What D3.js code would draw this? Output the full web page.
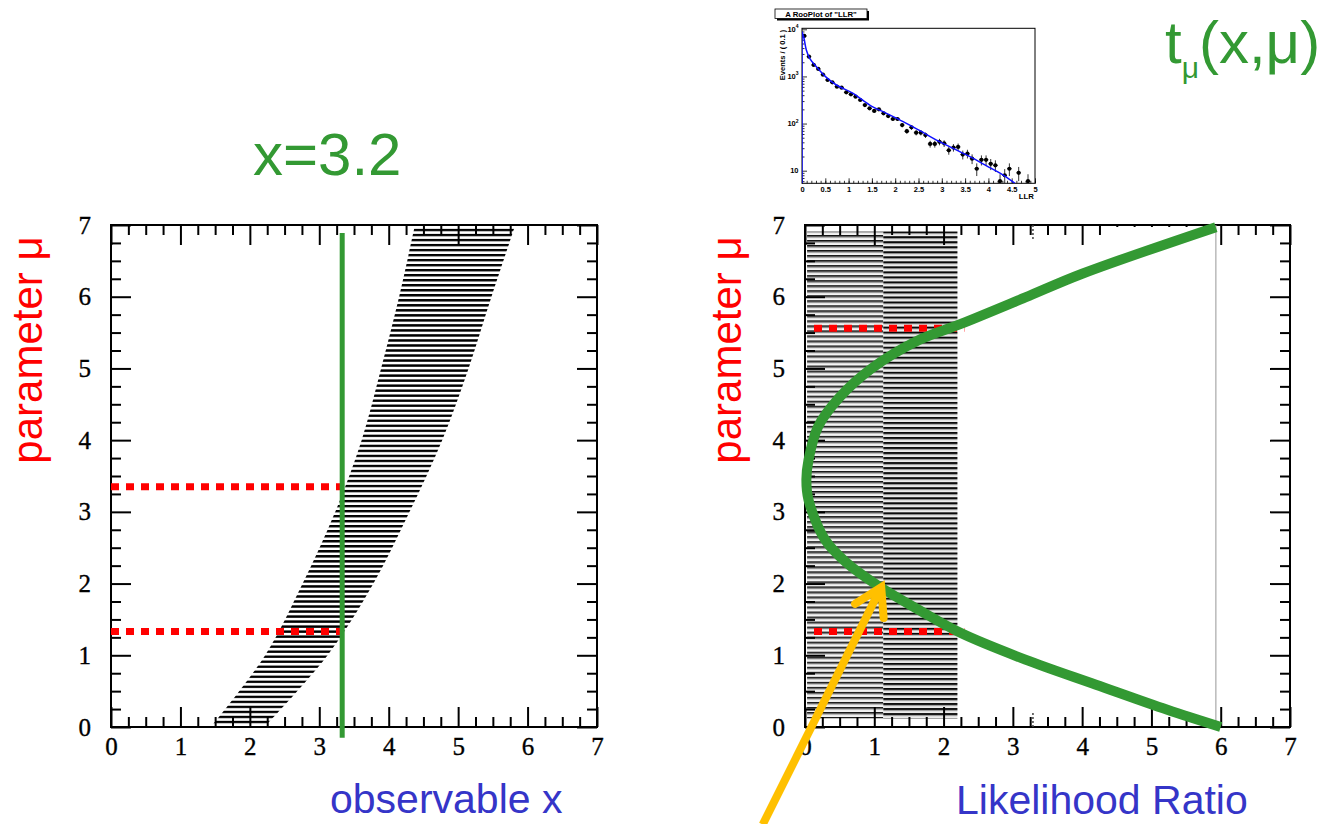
<!DOCTYPE html>
<html><head><meta charset="utf-8">
<script src="https://cdn.jsdelivr.net/npm/d3@7/dist/d3.min.js"></script>
<style>html,body{margin:0;padding:0;background:#fff;overflow:hidden}</style>
</head><body>
<svg id="chart" width="1334" height="824" xmlns="http://www.w3.org/2000/svg"></svg>
<script>
// ---------------- data ----------------
const axisTicks = [0, 1, 2, 3, 4, 5, 6, 7];

// left panel: acceptance band in (x, mu)
const bandMu = [0.04, 1, 2, 3, 4, 5, 6, 6.96];
const bandLo = [1.47, 2.22, 2.76, 3.23, 3.61, 3.89, 4.15, 4.37];
const bandHi = [2.25, 3.12, 3.78, 4.30, 4.77, 5.15, 5.48, 5.81];
const xObserved = 3.33;
const xObservedSpan = [-0.15, 6.89];
const leftLimits = [1.33, 3.35];

// right panel: likelihood ratio t_mu(x, mu) curve
const lrMu  = [6.97, 6.32, 5.99, 5.62, 5.39, 5.00, 4.60, 4.19, 3.72, 3.45, 3.17, 2.61, 2.29, 1.96, 1.64, 1.31, 0.94, 0.59, 0.24, 0.00];
const lrVal = [5.93, 4.00, 3.18, 2.25, 1.63, 0.96, 0.50, 0.19, 0.05, 0.02, 0.05, 0.29, 0.60, 1.07, 1.63, 2.25, 3.18, 4.20, 5.23, 6.00];
const rightLimits = [1.33, 5.56];
const rightLimitSpan = [0.13, 2.3];
const stripeMu = [0.12, 6.91];
const stripeLR = [0.03, 1.13, 2.2];
const refLR = 5.93;
const obsMarkLR = 3.29;
const arrowFrom = [-0.61, -1.36];
const arrowTo = [1.10, 1.95];

// inset: RooPlot of LLR
const llrBins = [0.05,0.15,0.25,0.35,0.45,0.55,0.65,0.75,0.85,0.95,1.05,1.15,1.25,1.35,1.45,1.55,1.65,1.75,1.85,1.95,2.05,2.15,2.25,2.35,2.45,2.55,2.65,2.75,2.85,2.95,3.05,3.15,3.25,3.35,3.45,3.55,3.65,3.75,3.85,3.95,4.05,4.15,4.25,4.35,4.45,4.65,4.85];
const llrCounts = [7220,2630,1750,1440,1090,840,750,607,577,459,417,372,316,247,210,185,200,165,144,125,125,93,69,83,64,64,57,37,37,41,38,27,31,32,22,23,18,11,17,17,14,13,6,8,11,9,6];
const llrErrors = [85,51,42,38,33,29,27,25,24,21,20,19,18,16,14.5,13.6,14.1,12.8,12,11.2,11.2,9.6,8.3,9.1,8,8,7.5,6.1,6.1,6.4,6.2,5.2,5.6,5.7,4.7,4.8,4.2,3.3,4.1,4.1,3.7,3.6,2.4,2.8,3.3,3,2.4];
const fitLLR = [0.0, 0.043, 0.093, 0.165, 0.308, 0.523, 0.738, 1.096, 1.454, 1.812, 2.17, 2.529, 2.887, 3.245, 3.603, 3.961, 4.32, 4.57];
const fitEvents = [8900, 6440, 3640, 2420, 1610, 957, 658, 438, 247, 165, 110, 70.6, 44.7, 29.7, 19.8, 12.7, 8.07, 5.4];
const insetXTicks = [0, 0.5, 1, 1.5, 2, 2.5, 3, 3.5, 4, 4.5, 5];
const insetXLabels = ['0', '0.5', '1', '1.5', '2', '2.5', '3', '3.5', '4', '4.5', '5'];
const insetYTicks = [10, 100, 1000, 10000];
const insetYExp = ['', '2', '3', '4'];

// ---------------- setup ----------------
const svg = d3.select('#chart');
const defs = svg.append('defs');
const GREEN = '#339933', RED = '#ff0000', BLUE_TXT = '#3535c8', YELLOW = '#ffc000';
const SANS = 'Liberation Sans, Arial, sans-serif';
const SERIF = 'Liberation Serif, Times New Roman, serif';

const xL = d3.scaleLinear().domain([0, 7]).range([111, 597]);
const xR = d3.scaleLinear().domain([0, 7]).range([805, 1290]);
const yM = d3.scaleLinear().domain([0, 7]).range([727, 225]);

function drawFrame(xs, ys) {
  const g = svg.append('g');
  const [xa, xb] = xs.range(); const [ya, yb] = ys.range();
  const minor = d3.range(0.25, 7, 0.25).filter(v => v % 1 !== 0);
  const sets = [
    {axis: d3.axisBottom, tr: `translate(0,${ya})`, sc: xs, lab: true, pad: 10},
    {axis: d3.axisTop, tr: `translate(0,${yb})`, sc: xs, lab: false, pad: 10},
    {axis: d3.axisLeft, tr: `translate(${xa},0)`, sc: ys, lab: true, pad: 20},
    {axis: d3.axisRight, tr: `translate(${xb},0)`, sc: ys, lab: false, pad: 10}
  ];
  sets.forEach(s => {
    const a1 = g.append('g').attr('transform', s.tr)
      .call(s.axis(s.sc).tickValues(minor).tickSize(-10).tickFormat(''));
    const a2 = g.append('g').attr('transform', s.tr)
      .call(s.axis(s.sc).tickValues(axisTicks).tickSize(-20).tickPadding(s.pad)
        .tickFormat(s.lab ? d3.format('d') : ''));
    [a1, a2].forEach(a => {
      a.select('.domain').remove();
      a.selectAll('line').attr('stroke', '#000').attr('stroke-width', 2);
      a.selectAll('text').attr('font-family', SERIF).attr('font-size', 25).attr('fill', '#000')
        .attr('stroke', '#000').attr('stroke-width', 0.35);
    });
  });
  g.append('rect').attr('x', xa).attr('y', yb).attr('width', xb - xa).attr('height', ya - yb)
    .attr('fill', 'none').attr('stroke', '#000').attr('stroke-width', 2);
  return g;
}

// ---------------- patterns ----------------
const period = yM(0) - yM(0.07);
const pBand = defs.append('pattern').attr('id', 'bandHatch').attr('patternUnits', 'userSpaceOnUse')
  .attr('x', 0).attr('y', yM(0.07) - 1.2).attr('width', 20).attr('height', period);
pBand.append('rect').attr('width', 20).attr('height', 2.4).attr('fill', '#000');

const pS1 = defs.append('pattern').attr('id', 'stripeL').attr('patternUnits', 'userSpaceOnUse')
  .attr('x', 0).attr('y', yM(0.14)).attr('width', 20).attr('height', period);
pS1.append('rect').attr('width', 20).attr('height', period).attr('fill', '#f4f4f4');
pS1.append('rect').attr('y', 0).attr('width', 20).attr('height', 1.5).attr('fill', '#111');
pS1.append('rect').attr('y', 1.5).attr('width', 20).attr('height', 1.2).attr('fill', '#8c8c8c');

const pS2 = defs.append('pattern').attr('id', 'stripeR').attr('patternUnits', 'userSpaceOnUse')
  .attr('x', 0).attr('y', yM(0.14) + 1.2).attr('width', 20).attr('height', period);
pS2.append('rect').attr('width', 20).attr('height', period).attr('fill', '#ececec');
pS2.append('rect').attr('y', 0).attr('width', 20).attr('height', 1.7).attr('fill', '#0a0a0a');
pS2.append('rect').attr('y', 1.7).attr('width', 20).attr('height', 1.0).attr('fill', '#808080');

// ---------------- left panel ----------------
const bandData = bandMu.map((m, i) => ({m, lo: bandLo[i], hi: bandHi[i]}));
svg.append('path').datum(bandData)
  .attr('d', d3.area().y(d => yM(d.m)).x0(d => xL(d.lo)).x1(d => xL(d.hi)).curve(d3.curveCatmullRom))
  .attr('fill', 'url(#bandHatch)');

drawFrame(xL, yM);

leftLimits.forEach(m => {
  svg.append('line').attr('x1', xL(0)).attr('x2', xL(xObserved)).attr('y1', yM(m)).attr('y2', yM(m))
    .attr('stroke', RED).attr('stroke-width', 7).attr('stroke-dasharray', '8,7');
});
svg.append('line').attr('x1', xL(xObserved)).attr('x2', xL(xObserved))
  .attr('y1', yM(xObservedSpan[1])).attr('y2', yM(xObservedSpan[0]))
  .attr('stroke', GREEN).attr('stroke-width', 5);

// ---------------- right panel ----------------
svg.append('rect').attr('x', xR(stripeLR[0])).attr('y', yM(stripeMu[1]))
  .attr('width', xR(stripeLR[1]) - xR(stripeLR[0])).attr('height', yM(stripeMu[0]) - yM(stripeMu[1]))
  .attr('fill', 'url(#stripeL)');
svg.append('rect').attr('x', xR(stripeLR[1])).attr('y', yM(stripeMu[1]))
  .attr('width', xR(stripeLR[2]) - xR(stripeLR[1])).attr('height', yM(stripeMu[0]) - yM(stripeMu[1]))
  .attr('fill', 'url(#stripeR)');

drawFrame(xR, yM);

// top ticks hidden in the original
svg.append('rect').attr('x', xR(4.35)).attr('y', yM(7) + 2).attr('width', xR(5.9) - xR(4.35)).attr('height', 20).attr('fill', '#fff');

svg.append('line').attr('x1', xR(refLR)).attr('x2', xR(refLR)).attr('y1', yM(7)).attr('y2', yM(0))
  .attr('stroke', '#a8a8a8').attr('stroke-width', 1.2);
[[yM(0), -14], [yM(7), 14]].forEach(([y0, d]) => {
  svg.append('line').attr('x1', xR(obsMarkLR)).attr('x2', xR(obsMarkLR)).attr('y1', y0).attr('y2', y0 + d)
    .attr('stroke', '#444').attr('stroke-width', 1.5).attr('stroke-dasharray', '2,2');
});

rightLimits.forEach(m => {
  svg.append('line').attr('x1', xR(rightLimitSpan[0])).attr('x2', xR(rightLimitSpan[1])).attr('y1', yM(m)).attr('y2', yM(m))
    .attr('stroke', RED).attr('stroke-width', 7).attr('stroke-dasharray', '8,7');
});

const lrData = lrMu.map((m, i) => ({m, v: lrVal[i]}));
svg.append('path').datum(lrData)
  .attr('d', d3.line().x(d => xR(d.v)).y(d => yM(d.m)).curve(d3.curveCatmullRom.alpha(0.5)))
  .attr('fill', 'none').attr('stroke', GREEN).attr('stroke-width', 10).attr('stroke-linecap', 'butt');

// yellow arrow
(function () {
  const x1 = xR(arrowFrom[0]), y1 = yM(arrowFrom[1]);
  const x2 = xR(arrowTo[0]), y2 = yM(arrowTo[1]);
  const ang = Math.atan2(y1 - y2, x1 - x2);
  const L = 31, spread = 31 * Math.PI / 180;
  svg.append('line').attr('x1', x1).attr('y1', y1).attr('x2', x2).attr('y2', y2)
    .attr('stroke', YELLOW).attr('stroke-width', 8);
  const w1 = [x2 + L * Math.cos(ang + spread), y2 + L * Math.sin(ang + spread)];
  const w2 = [x2 + L * Math.cos(ang - spread), y2 + L * Math.sin(ang - spread)];
  svg.append('path').attr('d', `M${w1[0]},${w1[1]}L${x2},${y2}L${w2[0]},${w2[1]}`)
    .attr('fill', 'none').attr('stroke', YELLOW).attr('stroke-width', 8).attr('stroke-linejoin', 'miter').attr('stroke-linecap', 'round');
})();

// ---------------- texts ----------------
svg.append('text').attr('x', 253).attr('y', 175).attr('font-family', SANS).attr('font-size', 60)
  .attr('fill', GREEN).text('x=3.2');
const tt = svg.append('text').attr('x', 1165).attr('y', 63).attr('font-family', SANS).attr('font-size', 60).attr('fill', GREEN);
tt.append('tspan').text('t');
tt.append('tspan').attr('font-size', 30).attr('dy', 15).text('μ');
tt.append('tspan').attr('dy', -15).text('(x,μ)');

[[42, 350], [741, 350]].forEach(([x, y]) => {
  svg.append('text').attr('transform', `translate(${x},${y}) rotate(-90)`).attr('text-anchor', 'middle')
    .attr('font-family', SANS).attr('font-size', 42).attr('fill', RED).text('parameter μ');
});
svg.append('text').attr('x', 330).attr('y', 813).attr('font-family', SANS).attr('font-size', 41)
  .attr('fill', BLUE_TXT).text('observable x');
svg.append('text').attr('x', 956).attr('y', 814).attr('font-family', SANS).attr('font-size', 41)
  .attr('fill', BLUE_TXT).text('Likelihood Ratio');

// ---------------- inset ----------------
(function () {
  const xi = d3.scaleLinear().domain([0, 5]).range([802, 1035]);
  const yi = d3.scaleLog().domain([5.4, 10500]).range([183.3, 28.3]);
  const g = svg.append('g');
  defs.append('clipPath').attr('id', 'insetClip').append('rect')
    .attr('x', 802).attr('y', 28.3).attr('width', 233).attr('height', 155);

  // title box
  g.append('rect').attr('x', 777).attr('y', 11).attr('width', 92).attr('height', 9.5).attr('fill', '#000');
  g.append('rect').attr('x', 775).attr('y', 9).attr('width', 92).attr('height', 9.5).attr('fill', '#fff').attr('stroke', '#000').attr('stroke-width', 0.8);
  g.append('text').attr('x', 821).attr('y', 16.8).attr('text-anchor', 'middle').attr('font-family', SANS)
    .attr('font-weight', 'bold').attr('font-size', 7.8).text('A RooPlot of "LLR"');

  g.append('rect').attr('x', 802).attr('y', 28.3).attr('width', 233).attr('height', 155)
    .attr('fill', '#fff').attr('stroke', '#000').attr('stroke-width', 1);

  // x ticks
  const xMinor = d3.range(0, 5.001, 0.1);
  g.append('g').attr('transform', 'translate(0,183.3)')
    .call(d3.axisBottom(xi).tickValues(xMinor).tickSize(-2.5).tickFormat(''))
    .call(a => { a.select('.domain').remove(); a.selectAll('line').attr('stroke', '#000').attr('stroke-width', 0.8); });
  const xa = g.append('g').attr('transform', 'translate(0,183.3)')
    .call(d3.axisBottom(xi).tickValues(insetXTicks).tickSize(-5).tickPadding(3).tickFormat((d, i) => insetXLabels[i]));
  xa.select('.domain').remove();
  xa.selectAll('line').attr('stroke', '#000').attr('stroke-width', 0.8);
  xa.selectAll('text').attr('font-family', SANS).attr('font-weight', 'bold').attr('font-size', 7.5).attr('fill', '#000');

  // y ticks
  const yMinor = [];
  [1, 10, 100, 1000].forEach(d => d3.range(2, 10).forEach(m => { const v = m * d; if (v >= 5.4 && v <= 10500) yMinor.push(v); }));
  g.append('g').attr('transform', 'translate(802,0)')
    .call(d3.axisLeft(yi).tickValues(yMinor).tickSize(-2.5).tickFormat(''))
    .call(a => { a.select('.domain').remove(); a.selectAll('line').attr('stroke', '#000').attr('stroke-width', 0.8); });
  g.append('g').attr('transform', 'translate(802,0)')
    .call(d3.axisLeft(yi).tickValues(insetYTicks).tickSize(-5).tickFormat(''))
    .call(a => { a.select('.domain').remove(); a.selectAll('line').attr('stroke', '#000').attr('stroke-width', 0.8); });
  insetYTicks.forEach((v, i) => {
    const t = g.append('text').attr('x', 798.5).attr('y', yi(v) + 2.5).attr('text-anchor', 'end')
      .attr('font-family', SANS).attr('font-weight', 'bold').attr('font-size', 7.5);
    t.append('tspan').text('10');
    if (insetYExp[i]) t.append('tspan').attr('font-size', 5).attr('dy', -3.5).text(insetYExp[i]);
  });
  g.append('text').attr('transform', 'translate(785,55) rotate(-90)').attr('text-anchor', 'middle')
    .attr('font-family', SANS).attr('font-weight', 'bold').attr('font-size', 7.5).text('Events / ( 0.1 )');
  g.append('text').attr('x', 1034).attr('y', 199).attr('text-anchor', 'end')
    .attr('font-family', SANS).attr('font-weight', 'bold').attr('font-size', 7.8).text('LLR');

  // data
  const pts = llrBins.map((x, i) => ({x, n: llrCounts[i], e: llrErrors[i]}));
  const dg = g.append('g').attr('clip-path', 'url(#insetClip)');
  pts.forEach(p => {
    const lo = Math.max(p.n - p.e, 5.4);
    dg.append('line').attr('x1', xi(p.x)).attr('x2', xi(p.x)).attr('y1', yi(lo)).attr('y2', yi(p.n + p.e))
      .attr('stroke', '#000').attr('stroke-width', 0.8);
    dg.append('line').attr('x1', xi(p.x - 0.05)).attr('x2', xi(p.x + 0.05)).attr('y1', yi(p.n)).attr('y2', yi(p.n))
      .attr('stroke', '#000').attr('stroke-width', 0.8);
    dg.append('circle').attr('cx', xi(p.x)).attr('cy', yi(p.n)).attr('r', 2.1).attr('fill', '#000');
  });
  // fit curve
  dg.append('line').attr('x1', xi(0)).attr('x2', xi(0)).attr('y1', yi(5.4)).attr('y2', yi(fitEvents[0]))
    .attr('stroke', '#1010ff').attr('stroke-width', 1.5);
  const fit = fitLLR.map((x, i) => ({x, y: fitEvents[i]}));
  dg.append('path').datum(fit)
    .attr('d', d3.line().x(d => xi(d.x)).y(d => yi(d.y)).curve(d3.curveCatmullRom.alpha(0.5)))
    .attr('fill', 'none').attr('stroke', '#1010ff').attr('stroke-width', 1.5);
})();
</script>
</body></html>
